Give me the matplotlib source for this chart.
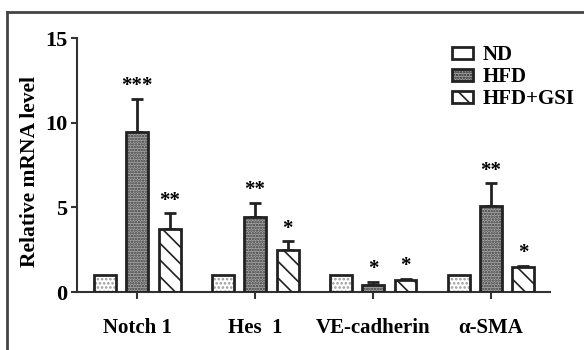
import numpy as np
import matplotlib
matplotlib.use("Agg")
from matplotlib import pyplot as plt
from matplotlib.patches import Patch
from matplotlib.lines import Line2D

genes = ["Notch 1", "Hes  1", "VE-cadherin", "α-SMA"]
groups = ["ND", "HFD", "HFD+GSI"]

nd_mean = [1.0, 1.0, 1.0, 1.0]
hfd_mean = [9.43, 4.45, 0.41, 5.08]
gsi_mean = [3.70, 2.48, 0.70, 1.46]

nd_err = [0.0, 0.0, 0.0, 0.0]
hfd_err = [1.97, 0.82, 0.19, 1.34]
gsi_err = [0.95, 0.52, 0.08, 0.09]

hfd_stars = ["***", "**", "*", "**"]
gsi_stars = ["**", "*", "*", "*"]

plt.rcParams['font.family'] = ['Liberation Serif', 'DejaVu Serif']
plt.rcParams['font.weight'] = 'bold'
plt.rcParams['hatch.linewidth'] = 1.2

fig = plt.figure(figsize=(5.84, 3.5), dpi=100)
ax = fig.add_axes([77 / 584, 1 - 292 / 350, (550 - 77) / 584, (292 - 38) / 350])

x = np.arange(len(genes))
off = 0.275
w = 0.186

series = [
    (nd_mean, nd_err, -off, "white", "....", "#999999"),
    (hfd_mean, hfd_err, 0.0, "#a8a8a8", "......", "#3a3a3a"),
    (gsi_mean, gsi_err, off, "white", "\\\\", "#222222"),
]

for means, errs, dx, fc, hatch, hc in series:
    # fill + hatch in its own colour, then the black outline on top
    ax.bar(x + dx, means, w, color=fc, edgecolor=hc, hatch=hatch, linewidth=0, zorder=2)
    ax.bar(x + dx, means, w, color="none", edgecolor="#222222", linewidth=2, zorder=3)
    if max(errs) > 0:
        ax.errorbar(x + dx, means, yerr=[np.zeros(len(errs)), errs], fmt="none",
                    ecolor="#222222", elinewidth=2, capsize=4.5, capthick=2, zorder=1)

for i in range(len(genes)):
    ax.text(x[i], hfd_mean[i] + hfd_err[i] + 0.15, hfd_stars[i], ha="center", va="bottom",
            fontsize=15, fontweight="bold")
    ax.text(x[i] + off, gsi_mean[i] + gsi_err[i] + 0.15, gsi_stars[i], ha="center", va="bottom",
            fontsize=15, fontweight="bold")

ax.set_xlim(-0.51, 3.5)
ax.set_ylim(0, 15)
ax.set_yticks([0, 5, 10, 15])
ax.set_xticks(x)
ax.set_xticklabels(genes)
ax.tick_params(axis="x", length=5, width=1.5, pad=14, labelsize=15, color="#333333")
ax.tick_params(axis="y", length=4, width=1.5, pad=3, labelsize=16, color="#333333")
for lab in ax.get_xticklabels() + ax.get_yticklabels():
    lab.set_fontweight("bold")
ax.set_ylabel("Relative mRNA level", fontsize=15.5, fontweight="bold")
ax.yaxis.set_label_coords(-0.078, 0.476)

for s in ["top", "right"]:
    ax.spines[s].set_visible(False)
for s in ["left", "bottom"]:
    ax.spines[s].set_linewidth(1.5)
    ax.spines[s].set_color("#333333")

handles = [
    Patch(facecolor="white", edgecolor="#222222", linewidth=2),
    Patch(facecolor="#a8a8a8", edgecolor="#222222", hatch="......", linewidth=2),
    Patch(facecolor="white", edgecolor="#222222", hatch="\\\\", linewidth=2),
]
ax.legend(handles, groups, loc="upper left", bbox_to_anchor=(452 / 584, 1 - 45 / 350),
          bbox_transform=fig.transFigure, frameon=False, fontsize=15,
          handlelength=1.0, handleheight=0.5, labelspacing=0.1, handletextpad=0.48,
          borderaxespad=0, borderpad=0)

# frame lines at top and left of the picture
fig.add_artist(Line2D([7 / 584, 1], [1 - 12 / 350, 1 - 12 / 350], color="#444444", lw=2))
fig.add_artist(Line2D([7 / 584, 7 / 584], [0, 1 - 12 / 350], color="#444444", lw=2))

fig.savefig("out.png", dpi=100)
